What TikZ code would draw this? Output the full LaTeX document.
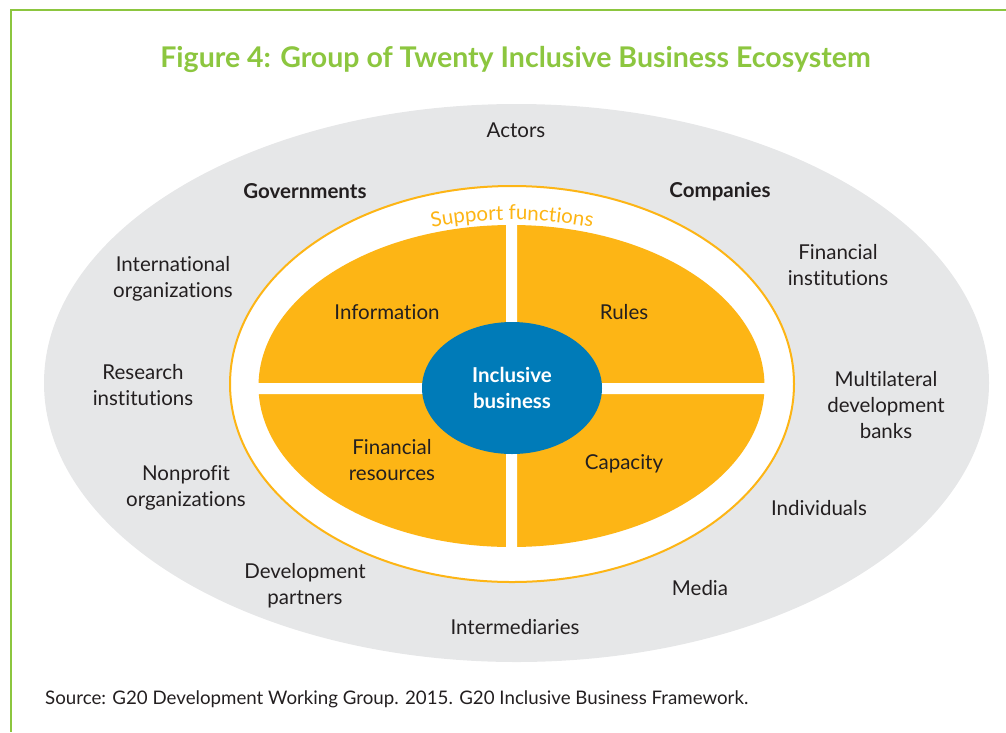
\documentclass[tikz,border=0pt]{standalone}
\usepackage{fontspec}
\setmainfont{Lato}[Ligatures=NoCommon]
\usetikzlibrary{shapes.geometric,decorations.text}
\definecolor{titlegreen}{HTML}{8CC63F}
\definecolor{actorgray}{HTML}{E6E7E8}
\definecolor{ringorange}{HTML}{FDB515}
\definecolor{coreblue}{HTML}{007BB8}
\definecolor{inkdark}{HTML}{231F20}
\newcommand{\txtsize}{\fontsize{20.5}{26}\selectfont}
\begin{document}
\begin{tikzpicture}[x=1pt,y=-1pt,
		actor/.style={align=center,font=\txtsize,text=inkdark,inner sep=0pt},
		keyactor/.style={actor,font=\txtsize\bfseries},
		support/.style={align=center,font=\txtsize,text=inkdark,inner sep=0pt},
		core/.style={ellipse,fill=coreblue,minimum width=180,minimum height=132,inner sep=0pt,
			align=center,text=white,font=\txtsize\bfseries}]
		\useasboundingbox (0,0) rectangle (1006,732);
		% frame and title
		\draw[titlegreen,line width=1.5] (1006,10)--(11,10)--(11,732);
		\node[text=titlegreen,font=\fontsize{28.5}{32}\selectfont\bfseries] (title) at (515.5,59) {Figure 4: Group of Twenty Inclusive Business Ecosystem};
		% ellipses
		\fill[actorgray] (516.5,383) ellipse [x radius=472.5,y radius=279];
		\filldraw[fill=white,draw=ringorange,line width=2] (512,384) ellipse [x radius=282,y radius=198];
		\fill[ringorange] (511.5,386) ellipse [x radius=253,y radius=161];
		\fill[white] (506,215) rectangle (517,560) (250,383) rectangle (775,394);
		\node[core] (core) at (512,388) {Inclusive\\business};
		\path[decorate,decoration={text along path,text align=center,
			text={|\color{ringorange}\txtsize|Support functions}}]
			(512,386) ++(200:268 and 166) arc [start angle=200,end angle=340,x radius=268,y radius=166];
		% support functions
		\node[support] (info) at (387,312) {Information};
		\node[support] (rules) at (624,312) {Rules};
		\node[support] (finres) at (392,460) {Financial\\resources};
		\node[support] (capacity) at (624,464) {Capacity};
		% actors
		\node[actor] (actors) at (516,130) {Actors};
		\node[keyactor] (govts) at (305,191) {Governments};
		\node[keyactor] (companies) at (720,192) {Companies};
		\node[actor] (intlorgs) at (173,279) {International\\organizations};
		\node[actor] (research) at (143,385) {Research\\institutions};
		\node[actor] (nonprofit) at (186,488) {Nonprofit\\organizations};
		\node[actor] (devpartners) at (305,586) {Development\\partners};
		\node[actor] (intermed) at (515,627) {Intermediaries};
		\node[actor] (media) at (700,588) {Media};
		\node[actor] (individuals) at (819,508) {Individuals};
		\node[actor] (mdbs) at (886,405) {Multilateral\\development\\banks};
		\node[actor] (fininst) at (838,265) {Financial\\institutions};
		% source
		\node[anchor=west,inner sep=0pt,text=inkdark,font=\fontsize{18.7}{22}\selectfont] (source) at (45,699) {Source: G20 Development Working Group. 2015. G20 Inclusive Business Framework.};
\end{tikzpicture}
\end{document}
